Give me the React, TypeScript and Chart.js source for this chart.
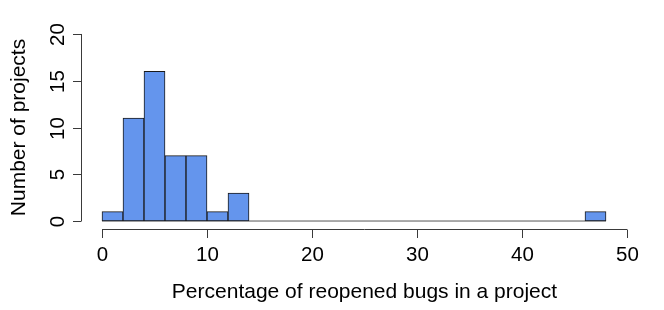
import React, { useEffect, useRef } from "react";
import { Chart, registerables } from "chart.js";

Chart.register(...registerables);

const binStarts = [0, 2, 4, 6, 8, 10, 12, 14, 16, 18, 20, 22, 24, 26, 28, 30, 32, 34, 36, 38, 40, 42, 44, 46];
const counts = [1, 11, 16, 7, 7, 1, 3, 0, 0, 0, 0, 0, 0, 0, 0, 0, 0, 0, 0, 0, 0, 0, 0, 1];
const binWidth = 2;
const xTicks = [0, 10, 20, 30, 40, 50];
const yTicks = [0, 5, 10, 15, 20];
const xTitle = "Percentage of reopened bugs in a project";
const yTitle = "Number of projects";

const FONT = "Liberation Sans, Arial, Helvetica, sans-serif";

const axesPlugin = {
  id: "rAxes",
  afterDraw(chart: any) {
    const ctx = chart.ctx;
    const xs = chart.scales.x;
    const ys = chart.scales.y;
    const area = chart.chartArea;
    ctx.save();
    ctx.strokeStyle = "#3a3a3a";
    ctx.lineWidth = 1;
    ctx.fillStyle = "#000";
    ctx.font = `20.5px ${FONT}`;
    // x axis
    const yAx = Math.round(area.bottom) + 0.5;
    const x0 = xs.getPixelForValue(xTicks[0]);
    const x1 = xs.getPixelForValue(xTicks[xTicks.length - 1]);
    ctx.beginPath();
    ctx.moveTo(x0, yAx);
    ctx.lineTo(x1, yAx);
    ctx.stroke();
    ctx.textAlign = "center";
    ctx.textBaseline = "alphabetic";
    xTicks.forEach((t) => {
      const px = Math.round(xs.getPixelForValue(t)) + 0.5;
      ctx.beginPath();
      ctx.moveTo(px, yAx);
      ctx.lineTo(px, yAx + 8.5);
      ctx.stroke();
      ctx.fillText(String(t), px, 261);
    });
    // y axis
    const xAx = Math.round(area.left) + 0.5;
    const y0 = ys.getPixelForValue(yTicks[0]);
    const y1 = ys.getPixelForValue(yTicks[yTicks.length - 1]);
    ctx.beginPath();
    ctx.moveTo(xAx, y0);
    ctx.lineTo(xAx, y1);
    ctx.stroke();
    yTicks.forEach((t) => {
      const py = Math.round(ys.getPixelForValue(t)) + 0.5;
      ctx.beginPath();
      ctx.moveTo(xAx, py);
      ctx.lineTo(xAx - 8.5, py);
      ctx.stroke();
      ctx.save();
      ctx.translate(63.5, py);
      ctx.rotate(-Math.PI / 2);
      ctx.textAlign = "center";
      ctx.fillText(String(t), 0, 0);
      ctx.restore();
    });
    // titles
    ctx.font = `21px ${FONT}`;
    ctx.textAlign = "center";
    ctx.fillText(xTitle, (area.left + area.right) / 2, 298);
    ctx.save();
    ctx.translate(25, (area.top + area.bottom) / 2);
    ctx.rotate(-Math.PI / 2);
    ctx.fillText(yTitle, 0, 0);
    ctx.restore();
    ctx.restore();
  },
};

export default function App() {
  const ref = useRef<HTMLCanvasElement | null>(null);
  useEffect(() => {
    document.body.style.margin = "0";
    const canvas = ref.current!;
    const barData = binStarts.map((s, i) => ({ x: s + binWidth / 2, y: counts[i] }));
    const last = binStarts[binStarts.length - 1] + binWidth;
    const chart = new Chart(canvas, {
      type: "bar",
      data: {
        datasets: [
          {
            type: "line",
            data: [
              { x: binStarts[0], y: 0 },
              { x: last, y: 0 },
            ],
            borderColor: "#555",
            borderWidth: 1,
            pointRadius: 0,
            order: 2,
          } as any,
          {
            type: "bar",
            data: barData,
            backgroundColor: "#6495ED",
            borderColor: "#1a1a1a",
            borderWidth: 1,
            borderSkipped: false,
            categoryPercentage: 1,
            barPercentage: 1,
            order: 1,
          } as any,
        ],
      },
      options: {
        animation: false,
        responsive: false,
        layout: { padding: { left: 81, right: 16, top: 26.5, bottom: 81.5 } },
        plugins: { legend: { display: false }, tooltip: { enabled: false } },
        scales: {
          x: { type: "linear", min: -2, max: 52, display: false, offset: false },
          y: { type: "linear", min: -0.8, max: 20.8, display: false },
        },
      },
      plugins: [axesPlugin],
    });
    return () => chart.destroy();
  }, []);
  return <canvas ref={ref} width={664} height={310} style={{ display: "block", width: 664, height: 310 }} />;
}
